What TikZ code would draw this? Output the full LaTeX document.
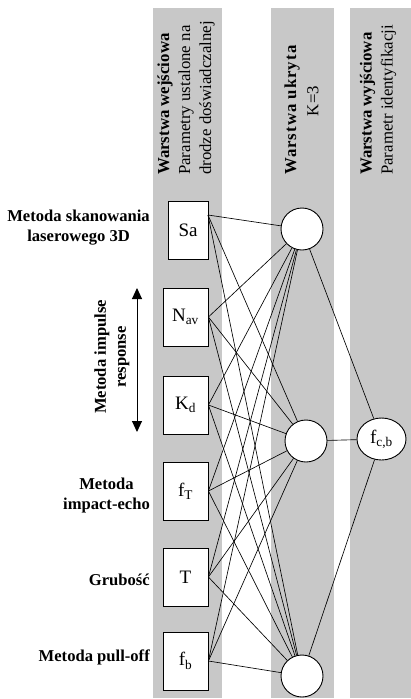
\documentclass[tikz,border=0pt]{standalone}
\usepackage{fontspec}
\setmainfont{Liberation Serif}
\usetikzlibrary{calc,arrows.meta,shapes.geometric}
\definecolor{bandgray}{RGB}{200,200,200}
\begin{document}
\begin{tikzpicture}[x=1pt,y=-1pt,
  band/.style={fill=bandgray,draw=none},
  inbox/.style={draw=black,fill=white,line width=0.8pt,minimum width=45pt,minimum height=58pt,inner sep=0pt,font=\fontsize{19}{22}\selectfont},
  hid/.style={circle,draw=black,fill=white,line width=0.9pt,minimum size=42pt,inner sep=0pt},
  outn/.style={ellipse,draw=black,fill=white,line width=0.9pt,minimum width=49pt,minimum height=42pt,inner sep=0pt,font=\fontsize{19}{22}\selectfont},
  conn/.style={line width=0.65pt},
  lbl/.style={font=\fontsize{16.6}{20}\selectfont\bfseries,align=center,anchor=east,inner sep=0pt},
  head/.style={rotate=90,font=\fontsize{16.8}{21}\selectfont,align=left,anchor=west,inner sep=0pt}
]
\useasboundingbox (0,0) rectangle (411,699);
% bands
\fill[band] (153,8) rectangle (222,698);
\fill[band] (271,8) rectangle (334,698);
\fill[band] (350,8) rectangle (411,698);
% headers
\node[head] (hd1) at (186,175) {\textbf{Warstwa wejściowa}\\Parametry ustalone na\\drodze doświadczalnej};
\node[head] (hd2) at (292,175) {\addfontfeature{LetterSpace=6}\textbf{Warstwa ukryta}};
\node[head,anchor=center] (hd2k) at (313,101) {K=3};
\node[head] (hd3) at (378,175) {\textbf{Warstwa wyjściowa}\\Parametr identyfikacji};
% input nodes
\node[inbox,minimum width=40pt] (sa) at (188,230) {Sa};
\node[inbox] (nav) at (185.5,317) {N\textsubscript{av}};
\node[inbox] (kd) at (185.5,405) {K\textsubscript{d}};
\node[inbox] (ft) at (185.5,491) {f\textsubscript{T}};
\node[inbox] (t) at (185.5,577) {T};
\node[inbox] (fb) at (185.5,661) {f\textsubscript{b}};
\coordinate (saout) at (208,215);
% hidden nodes
\node[hid] (h1) at (302,229) {};
\node[hid] (h2) at (306,441) {};
\node[hid] (h3) at (302,676) {};
% output
\node[outn] (o) at (381.5,439) {f\textsubscript{c,b}};
% connections
\foreach \h in {h1,h2,h3}{
  \draw[conn] (saout) -- (\h);
  \foreach \i in {nav,kd,ft,t,fb}{
    \draw[conn] (\i.east) -- (\h);
  }
  \draw[conn] (\h) -- (o);
}
% left labels
\node[lbl] (l1) at (150,228) {Metoda skanowania\\laserowego 3D};
\node[lbl] (l2) at (150,496) {Metoda\\impact-echo};
\node[lbl] (l3) at (150,580) {Grubość};
\node[lbl] (l4) at (150,657) {Metoda pull-off};
\node[lbl,rotate=90,anchor=center] (l5) at (112,357) {Metoda impulse\\response};
\coordinate (arT) at (137,288);
\coordinate (arB) at (137,432);
\draw[line width=1pt,{Triangle[width=10pt,length=11pt]}-{Triangle[width=10pt,length=11pt]}] (arT) -- (arB);
\end{tikzpicture}
\end{document}
